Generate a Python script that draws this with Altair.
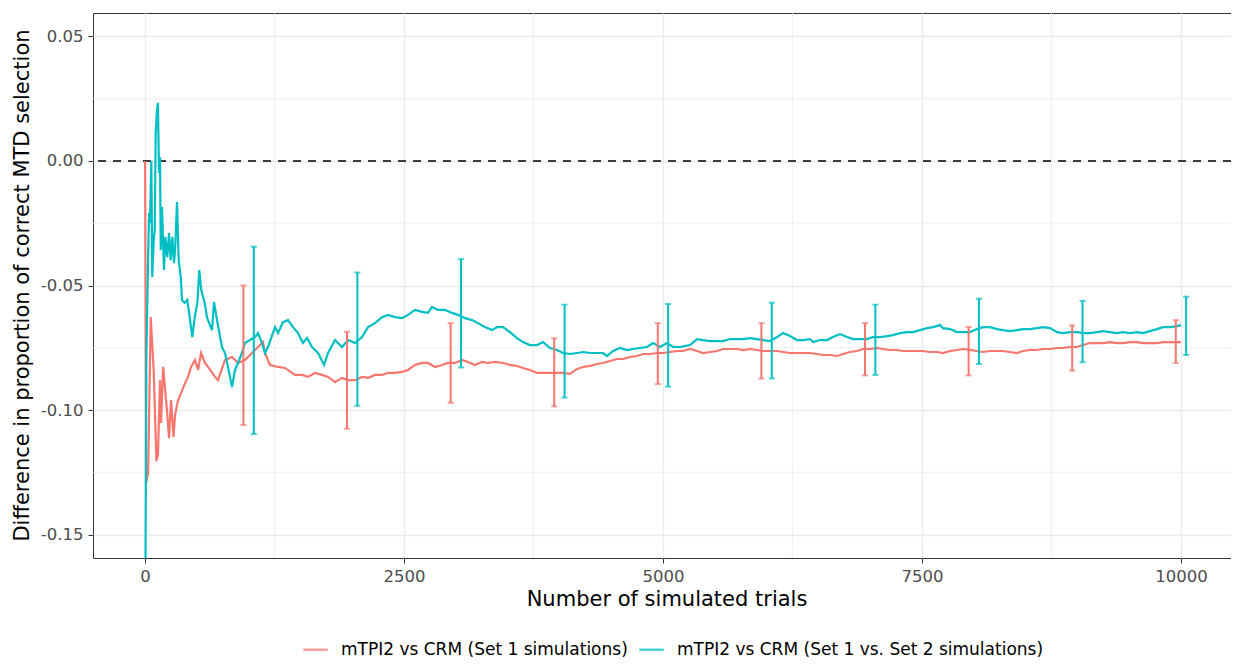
import altair as alt
import pandas as pd

S1 = "mTPI2 vs CRM (Set 1 simulations)"
S2 = "mTPI2 vs CRM (Set 1 vs. Set 2 simulations)"
COLORS = ["#F8766D", "#00BFC4"]

red_trial = [1, 10, 30, 55, 85, 110, 125, 145, 155, 175, 212, 232, 251, 275, 290, 319, 348, 386, 415, 444,
             483, 512, 541, 579, 608, 676, 705, 772, 840, 898, 965, 1033, 1110, 1139, 1158, 1207, 1284, 1351,
             1419, 1448, 1516, 1573, 1641, 1709, 1767, 1834, 1902, 1960, 2027, 2095, 2153, 2220, 2288, 2346,
             2413, 2481, 2539, 2606, 2674, 2732, 2799, 2867, 2925, 2992, 3060, 3118, 3185, 3253, 3311, 3378,
             3456, 3523, 3591, 3649, 3716, 3784, 3842, 3909, 3977, 4035, 4103, 4170, 4228, 4296, 4363, 4421,
             4489, 4556, 4614, 4682, 4749, 4807, 4875, 4942, 5000, 5068, 5135, 5193, 5261, 5329, 5386, 5454,
             5522, 5580, 5647, 5715, 5773, 5840, 5908, 5966, 6033, 6101, 6159, 6226, 6294, 6352, 6419, 6487,
             6545, 6612, 6680, 6738, 6805, 6873, 6931, 6998, 7066, 7124, 7191, 7259, 7317, 7385, 7452, 7510,
             7578, 7645, 7703, 7771, 7838, 7896, 7964, 8031, 8089, 8157, 8224, 8282, 8350, 8417, 8475, 8543,
             8610, 8668, 8736, 8803, 8861, 8929, 8996, 9054, 9122, 9190, 9248, 9315, 9383, 9441, 9508, 9576,
             9634, 9701, 9769, 9827, 9894, 10000]
red_value = [0.0, -0.1293, -0.1253, -0.0627, -0.0851, -0.1205, -0.1180, -0.0880, -0.1052, -0.0827, -0.1000,
             -0.1113, -0.0960, -0.1108, -0.1020, -0.0960, -0.0932, -0.0892, -0.0867, -0.0827, -0.0799, -0.0839,
             -0.0771, -0.0811, -0.0827, -0.0867, -0.0880, -0.0799, -0.0787, -0.0811, -0.0799, -0.0771, -0.0739,
             -0.0727, -0.0771, -0.0819, -0.0827, -0.0831, -0.0851, -0.0859, -0.0859, -0.0867, -0.0851, -0.0859,
             -0.0867, -0.0888, -0.0871, -0.0880, -0.0880, -0.0867, -0.0871, -0.0859, -0.0859, -0.0851, -0.0851,
             -0.0847, -0.0839, -0.0819, -0.0811, -0.0811, -0.0827, -0.0819, -0.0811, -0.0811, -0.0799, -0.0807,
             -0.0819, -0.0807, -0.0811, -0.0807, -0.0811, -0.0819, -0.0823, -0.0831, -0.0839, -0.0851, -0.0851,
             -0.0851, -0.0851, -0.0851, -0.0855, -0.0835, -0.0827, -0.0823, -0.0815, -0.0811, -0.0803, -0.0795,
             -0.0795, -0.0787, -0.0783, -0.0775, -0.0775, -0.0771, -0.0771, -0.0767, -0.0763, -0.0763, -0.0755,
             -0.0763, -0.0771, -0.0767, -0.0763, -0.0755, -0.0755, -0.0755, -0.0759, -0.0755, -0.0759, -0.0763,
             -0.0763, -0.0763, -0.0767, -0.0771, -0.0771, -0.0771, -0.0771, -0.0775, -0.0779, -0.0779, -0.0783,
             -0.0775, -0.0767, -0.0763, -0.0755, -0.0755, -0.0751, -0.0755, -0.0759, -0.0759, -0.0763, -0.0763,
             -0.0763, -0.0763, -0.0767, -0.0767, -0.0771, -0.0763, -0.0759, -0.0755, -0.0759, -0.0763, -0.0767,
             -0.0763, -0.0763, -0.0763, -0.0767, -0.0771, -0.0763, -0.0759, -0.0759, -0.0755, -0.0755, -0.0751,
             -0.0751, -0.0747, -0.0747, -0.0739, -0.0731, -0.0731, -0.0731, -0.0727, -0.0731, -0.0731, -0.0727,
             -0.0727, -0.0731, -0.0731, -0.0731, -0.0727, -0.0727, -0.0727]

cyan_trial = [1, 4, 13, 29, 39, 48, 61, 70, 84, 94, 103, 116, 125, 135, 145, 152, 164, 183, 196, 215, 232,
              248, 264, 280, 292, 309, 325, 345, 357, 383, 408, 431, 457, 480, 505, 524, 543, 576, 598, 608,
              647, 666, 695, 743, 772, 801, 840, 869, 898, 936, 965, 1014, 1062, 1091, 1129, 1158, 1187, 1255,
              1284, 1332, 1380, 1429, 1477, 1525, 1564, 1612, 1670, 1728, 1767, 1834, 1902, 1960, 2027, 2095,
              2153, 2220, 2288, 2346, 2413, 2481, 2539, 2606, 2674, 2732, 2770, 2828, 2896, 2964, 3021, 3089,
              3157, 3214, 3282, 3350, 3398, 3456, 3523, 3591, 3649, 3716, 3784, 3842, 3909, 3977, 4035, 4103,
              4170, 4228, 4296, 4363, 4421, 4460, 4518, 4585, 4653, 4711, 4778, 4846, 4904, 4971, 5039, 5097,
              5164, 5261, 5329, 5386, 5454, 5522, 5580, 5647, 5715, 5773, 5840, 5908, 5966, 6033, 6101, 6159,
              6226, 6294, 6352, 6419, 6448, 6516, 6583, 6641, 6709, 6776, 6834, 6902, 6969, 7027, 7095, 7163,
              7220, 7288, 7356, 7414, 7481, 7549, 7607, 7674, 7703, 7771, 7838, 7896, 7964, 8031, 8089, 8157,
              8224, 8282, 8350, 8417, 8475, 8543, 8610, 8668, 8736, 8803, 8861, 8929, 8996, 9054, 9122, 9190,
              9248, 9315, 9383, 9441, 9508, 9576, 9634, 9701, 9769, 9827, 9894, 9962, 10000]
cyan_value = [-0.5, -0.17, -0.0787, -0.0410, -0.0209, -0.0249, 0.0, -0.0466, -0.0317, -0.0277, 0.0112, 0.0205,
              0.0233, -0.0048, 0.0016, -0.0357, -0.0185, -0.0438, -0.0305, -0.0386, -0.0289, -0.0398, -0.0305,
              -0.0410, -0.0345, -0.0165, -0.0398, -0.0466, -0.0558, -0.0570, -0.0558, -0.0627, -0.0707, -0.0627,
              -0.0570, -0.0438, -0.0518, -0.0570, -0.0627, -0.0639, -0.0679, -0.0566, -0.0639, -0.0747, -0.0771,
              -0.0827, -0.0908, -0.0839, -0.0811, -0.0771, -0.0731, -0.0719, -0.0707, -0.0691, -0.0731, -0.0771,
              -0.0747, -0.0667, -0.0691, -0.0647, -0.0639, -0.0667, -0.0691, -0.0731, -0.0711, -0.0747, -0.0771,
              -0.0819, -0.0771, -0.0719, -0.0747, -0.0719, -0.0731, -0.0707, -0.0667, -0.0651, -0.0627, -0.0618,
              -0.0627, -0.0631, -0.0618, -0.0598, -0.0606, -0.0610, -0.0586, -0.0598, -0.0598, -0.0610, -0.0618,
              -0.0631, -0.0639, -0.0651, -0.0667, -0.0679, -0.0667, -0.0667, -0.0687, -0.0711, -0.0727, -0.0739,
              -0.0739, -0.0727, -0.0751, -0.0759, -0.0771, -0.0775, -0.0771, -0.0767, -0.0771, -0.0771, -0.0771,
              -0.0783, -0.0763, -0.0751, -0.0759, -0.0755, -0.0751, -0.0747, -0.0731, -0.0747, -0.0731, -0.0747,
              -0.0747, -0.0739, -0.0715, -0.0719, -0.0723, -0.0723, -0.0723, -0.0715, -0.0715, -0.0715, -0.0711,
              -0.0715, -0.0719, -0.0723, -0.0707, -0.0691, -0.0703, -0.0719, -0.0719, -0.0715, -0.0727, -0.0719,
              -0.0719, -0.0707, -0.0695, -0.0707, -0.0715, -0.0715, -0.0715, -0.0707, -0.0707, -0.0703, -0.0699,
              -0.0691, -0.0687, -0.0687, -0.0679, -0.0671, -0.0667, -0.0659, -0.0671, -0.0675, -0.0687, -0.0687,
              -0.0687, -0.0675, -0.0667, -0.0667, -0.0675, -0.0679, -0.0683, -0.0679, -0.0675, -0.0675, -0.0671,
              -0.0667, -0.0671, -0.0687, -0.0691, -0.0687, -0.0687, -0.0691, -0.0691, -0.0687, -0.0683, -0.0687,
              -0.0691, -0.0687, -0.0691, -0.0687, -0.0691, -0.0683, -0.0675, -0.0667, -0.0667, -0.0663, -0.0659]

err_red_x = [950, 1950, 2950, 3950, 4950, 5950, 6950, 7950, 8950, 9950]
err_red_lo = [-0.1060, -0.1075, -0.0971, -0.0985, -0.0896, -0.0874, -0.0861, -0.0861, -0.0842, -0.0811]
err_red_hi = [-0.0500, -0.0686, -0.0651, -0.0712, -0.0651, -0.0651, -0.0651, -0.0667, -0.0660, -0.0639]
err_cyan_x = [1050, 2050, 3050, 4050, 5050, 6050, 7050, 8050, 9050, 10050]
err_cyan_lo = [-0.1096, -0.0983, -0.0829, -0.0950, -0.0906, -0.0873, -0.0859, -0.0815, -0.0808, -0.0779]
err_cyan_hi = [-0.0344, -0.0448, -0.0394, -0.0577, -0.0574, -0.0569, -0.0577, -0.0553, -0.0562, -0.0545]

x_major = [0, 2500, 5000, 7500, 10000]
x_minor = [1250, 3750, 6250, 8750]
y_major = [-0.15, -0.10, -0.05, 0.00, 0.05]
y_minor = [-0.125, -0.075, -0.025, 0.025]

lines = pd.concat([
    pd.DataFrame({"trial": red_trial, "value": red_value, "series": S1}),
    pd.DataFrame({"trial": cyan_trial, "value": cyan_value, "series": S2}),
])
errs = pd.concat([
    pd.DataFrame({"trial": err_red_x, "lo": err_red_lo, "hi": err_red_hi, "series": S1}),
    pd.DataFrame({"trial": err_cyan_x, "lo": err_cyan_lo, "hi": err_cyan_hi, "series": S2}),
])

FONT = "DejaVu Sans"
xscale = alt.Scale(domain=[-502, 10483], nice=False, zero=False)
yscale = alt.Scale(domain=[-0.1594, 0.0594], nice=False, zero=False)
cscale = alt.Scale(domain=[S1, S2], range=COLORS)

xaxis = alt.Axis(values=x_major, format="d", title="Number of simulated trials",
                 grid=True, gridColor="#EBEBEB", gridWidth=1.4, domain=False,
                 tickColor="#333333", tickSize=5, tickWidth=1,
                 labelColor="#4D4D4D", labelFontSize=16.5, labelFont=FONT, labelPadding=5,
                 titleFont=FONT, titleFontSize=21, titleFontWeight="normal", titleColor="black",
                 titleX=573.5, titleY=41, titleBaseline="middle", titleAlign="center")
yaxis = alt.Axis(values=y_major, title="Difference in proportion of correct MTD selection",
                 labelExpr="replace(format(datum.value, '.2f'), '\u2212', '-')",
                 grid=True, gridColor="#EBEBEB", gridWidth=1.4, domain=False,
                 tickColor="#333333", tickSize=5, tickWidth=1,
                 labelColor="#4D4D4D", labelFontSize=16.5, labelFont=FONT, labelPadding=5,
                 titleFont=FONT, titleFontSize=21, titleFontWeight="normal", titleColor="black",
                 titleX=-71, titleY=272, titleAngle=270, titleBaseline="middle", titleAlign="center")

minor_x = alt.Chart(pd.DataFrame({"v": x_minor})).mark_rule(color="#EBEBEB", strokeWidth=0.8).encode(
    x=alt.X("v:Q", scale=xscale, axis=xaxis))
minor_y = alt.Chart(pd.DataFrame({"v": y_minor})).mark_rule(color="#EBEBEB", strokeWidth=0.8).encode(
    y=alt.Y("v:Q", scale=yscale, axis=yaxis))

zero = alt.Chart(pd.DataFrame({"v": [0.0]})).mark_rule(
    color="black", strokeWidth=1.5, strokeDash=[8, 7]).encode(y=alt.Y("v:Q", scale=yscale))

line = alt.Chart(lines).mark_line(strokeWidth=2.2, clip=True).encode(
    x=alt.X("trial:Q", scale=xscale),
    y=alt.Y("value:Q", scale=yscale),
    color=alt.Color("series:N", scale=cscale, sort=[S1, S2],
                    legend=alt.Legend(title=None, orient="none", legendX=209, legendY=623,
                                      direction="horizontal", symbolType="stroke",
                                      symbolStrokeWidth=2.5, symbolSize=600, labelFontSize=17,
                                      labelFont=FONT, labelColor="black", labelOffset=12,
                                      labelLimit=500, columnPadding=6)),
    detail="series:N",
    order="trial:Q",
)

bars = alt.Chart(errs).mark_rule(strokeWidth=2).encode(
    x=alt.X("trial:Q", scale=xscale),
    y=alt.Y("lo:Q", scale=yscale),
    y2="hi:Q",
    color=alt.Color("series:N", scale=cscale),
)
cap_lo = alt.Chart(errs).mark_tick(orient="horizontal", size=6, thickness=2).encode(
    x=alt.X("trial:Q", scale=xscale),
    y=alt.Y("lo:Q", scale=yscale),
    color=alt.Color("series:N", scale=cscale),
)
cap_hi = alt.Chart(errs).mark_tick(orient="horizontal", size=6, thickness=2).encode(
    x=alt.X("trial:Q", scale=xscale),
    y=alt.Y("hi:Q", scale=yscale),
    color=alt.Color("series:N", scale=cscale),
)

chart = alt.layer(minor_x, minor_y, zero, line, bars, cap_lo, cap_hi).properties(
    width=1138, height=545,
    autosize=alt.AutoSizeParams(type="none"),
    padding={"left": 85, "top": 5, "right": 0, "bottom": 102},
    background="white",
).configure_view(stroke="#333333", strokeWidth=1)

chart.save("out.html", embed_options={"renderer": "svg", "actions": False})
